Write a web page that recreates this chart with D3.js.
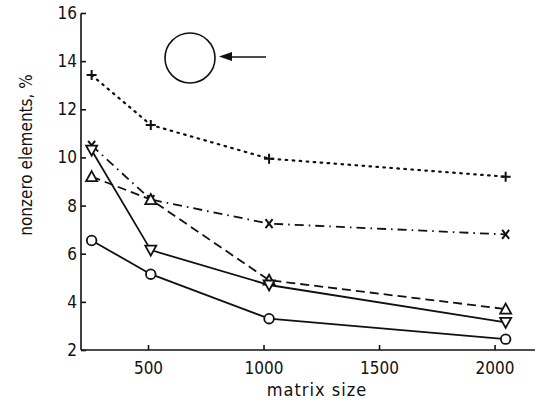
<!DOCTYPE html>
<html>
<head>
<meta charset="utf-8">
<script src="https://cdn.jsdelivr.net/npm/d3@7"></script>
<style>
  body { margin: 0; background: #fff; }
  svg text { font-family: "DejaVu Sans Condensed", "DejaVu Sans", sans-serif; fill: #111; }
</style>
</head>
<body>
<svg id="chart"></svg>
<script>
"use strict";

var sizes = [256, 512, 1024, 2048];
var plusSeries = [13.42, 11.35, 9.95, 9.2];
var crossSeries = [10.5, 8.25, 7.25, 6.8];
var triUpSeries = [9.2, 8.25, 4.9, 3.7];
var triDownSeries = [10.3, 6.15, 4.7, 3.15];
var circleSeries = [6.55, 5.15, 3.3, 2.45];
var xTicks = [500, 1000, 1500, 2000];
var yTicks = [2, 4, 6, 8, 10, 12, 14, 16];

var width = 539;
var height = 404;
var margin = { top: 13, right: 4, bottom: 54, left: 81 };
var svg = d3.select("#chart").attr("width", width).attr("height", height);

var x = d3.scaleLinear().domain([210, 2175]).range([margin.left, width - margin.right]);
var y = d3.scaleLinear().domain([2, 16]).range([height - margin.bottom, margin.top]);

// axes
var xAxis = d3.axisBottom(x).tickValues(xTicks).tickFormat(d3.format("d"))
  .tickSizeInner(-5).tickSizeOuter(0).tickPadding(12);
var yAxis = d3.axisLeft(y).tickValues(yTicks).tickSizeInner(-5).tickSizeOuter(0).tickPadding(4);

var gx = svg.append("g").attr("transform", "translate(0," + y(2) + ")").call(xAxis);
var gy = svg.append("g").attr("transform", "translate(" + x(210) + ",0)").call(yAxis);
[gx, gy].forEach(function (g) {
  g.attr("font-family", null);
  g.selectAll("path, line").attr("stroke", "#111").attr("stroke-width", 1.6);
  g.selectAll("text").attr("font-size", 17).style("fill", "#111");
});
gy.select(".domain").attr("d", "M0," + (y(16) + 0.5) + "V" + y(2));
gx.select(".domain").attr("d", "M" + x(210) + ",0H" + (width - 4));
gy.selectAll(".tick line").attr("x2", 5);
gy.selectAll(".tick text").attr("x", -4);

svg.append("text").attr("text-anchor", "middle").attr("font-size", 17)
  .attr("transform", "translate(32,155) rotate(-90)")
  .text("nonzero elements, %");
svg.append("text").attr("text-anchor", "middle").attr("font-size", 18)
  .attr("x", 317).attr("y", 396).attr("letter-spacing", 1).text("matrix size");

// series
var line = d3.line().x(function (d) { return x(d[0]); }).y(function (d) { return y(d[1]); });
function zip(vals) { return sizes.map(function (s, i) { return [s, vals[i]]; }); }

var series = [
  { vals: plusSeries, dash: "1.6,5.4", cap: "round", kind: "plus" },
  { vals: crossSeries, dash: "9,5,1.6,5", cap: "butt", kind: "x" },
  { vals: triUpSeries, dash: "9,5", cap: "butt", kind: "triup" },
  { vals: triDownSeries, dash: null, cap: "butt", kind: "tridown" },
  { vals: circleSeries, dash: null, cap: "butt", kind: "circle" }
];

series.forEach(function (s) {
  svg.append("path").datum(zip(s.vals)).attr("d", line)
    .attr("fill", "none").attr("stroke", "#111").attr("stroke-width", s.kind === "plus" ? 2.2 : 1.8)
    .attr("stroke-linecap", s.cap)
    .attr("stroke-dasharray", s.dash);
});

series.forEach(function (s) {
  var g = svg.append("g");
  zip(s.vals).forEach(function (d) {
    var px = x(d[0]), py = y(d[1]);
    if (s.kind === "plus") {
      g.append("path").attr("d", "M" + (px - 5) + "," + py + "H" + (px + 5) + "M" + px + "," + (py - 5) + "V" + (py + 5))
        .attr("stroke", "#111").attr("stroke-width", 2);
    } else if (s.kind === "x") {
      g.append("path").attr("d", "M" + (px - 3.5) + "," + (py - 4.5) + "L" + (px + 3.5) + "," + (py + 4.5) + "M" + (px + 3.5) + "," + (py - 4.5) + "L" + (px - 3.5) + "," + (py + 4.5))
        .attr("stroke", "#111").attr("stroke-width", 2);
    } else if (s.kind === "triup") {
      g.append("path").attr("d", "M" + px + "," + (py - 5.5) + "L" + (px + 5.5) + "," + (py + 4.5) + "L" + (px - 5.5) + "," + (py + 4.5) + "Z")
        .attr("fill", "#fff").attr("stroke", "#111").attr("stroke-width", 1.8);
    } else if (s.kind === "tridown") {
      g.append("path").attr("d", "M" + px + "," + (py + 5.5) + "L" + (px + 5.5) + "," + (py - 4.5) + "L" + (px - 5.5) + "," + (py - 4.5) + "Z")
        .attr("fill", "#fff").attr("stroke", "#111").attr("stroke-width", 1.8);
    } else {
      g.append("circle").attr("cx", px).attr("cy", py).attr("r", 4.8)
        .attr("fill", "#fff").attr("stroke", "#111").attr("stroke-width", 1.8);
    }
  });
});

// circle inset with arrow
svg.append("circle").attr("cx", 190).attr("cy", 58).attr("r", 25)
  .attr("fill", "none").attr("stroke", "#111").attr("stroke-width", 1.6);
svg.append("path").attr("d", "M266,57H228").attr("stroke", "#111").attr("stroke-width", 1.6);
svg.append("path").attr("d", "M219,56.5L232,52L232,61Z").attr("fill", "#111");
</script>
</body>
</html>
